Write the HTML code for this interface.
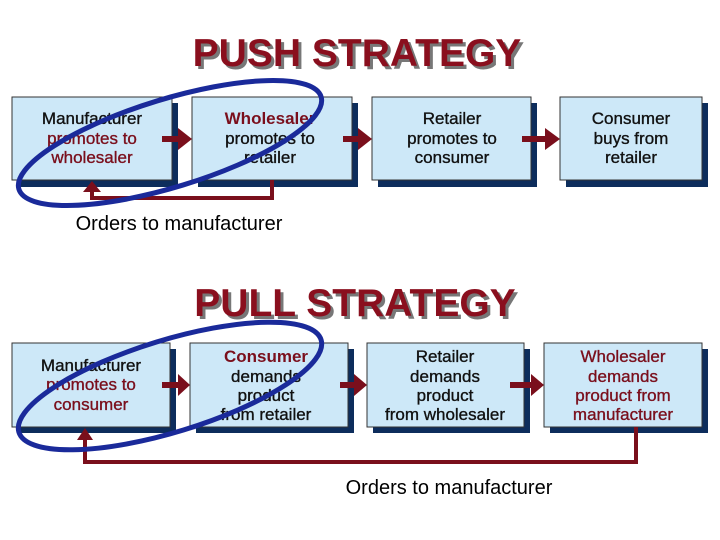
<!DOCTYPE html>
<html><head><style>
body{margin:0;background:#fff;}
svg{display:block;font-family:"Liberation Sans",Arial,sans-serif;}
.t{font-size:17px;text-anchor:middle;fill:#111;stroke:#111;stroke-width:0.35;}
.r{fill:#7a0f1c;stroke:#7a0f1c;}
.b{font-weight:bold;stroke-width:0;}
</style></head><body>
<svg width="720" height="540" viewBox="0 0 720 540" xmlns="http://www.w3.org/2000/svg">
<text x="360" y="69" font-size="39" font-weight="bold" text-anchor="middle" fill="#777">PUSH STRATEGY</text>
<text x="357" y="66" font-size="39" font-weight="bold" text-anchor="middle" fill="#8a0f1e">PUSH STRATEGY</text>
<text x="358" y="319" font-size="39" font-weight="bold" text-anchor="middle" fill="#777">PULL STRATEGY</text>
<text x="355" y="316" font-size="39" font-weight="bold" text-anchor="middle" fill="#8a0f1e">PULL STRATEGY</text>

<g stroke="#333" stroke-width="1">
<rect x="18" y="103" width="160" height="84" fill="#0d2d5c" stroke="none"/>
<rect x="12" y="97" width="160" height="83" fill="#cde8f8"/>
<rect x="198" y="103" width="160" height="84" fill="#0d2d5c" stroke="none"/>
<rect x="192" y="97" width="160" height="83" fill="#cde8f8"/>
<rect x="378" y="103" width="159" height="84" fill="#0d2d5c" stroke="none"/>
<rect x="372" y="97" width="159" height="83" fill="#cde8f8"/>
<rect x="566" y="103" width="142" height="84" fill="#0d2d5c" stroke="none"/>
<rect x="560" y="97" width="142" height="83" fill="#cde8f8"/>
<rect x="18" y="349" width="158" height="84" fill="#0d2d5c" stroke="none"/>
<rect x="12" y="343" width="158" height="84" fill="#cde8f8"/>
<rect x="196" y="349" width="158" height="84" fill="#0d2d5c" stroke="none"/>
<rect x="190" y="343" width="158" height="84" fill="#cde8f8"/>
<rect x="373" y="349" width="157" height="84" fill="#0d2d5c" stroke="none"/>
<rect x="367" y="343" width="157" height="84" fill="#cde8f8"/>
<rect x="550" y="349" width="158" height="84" fill="#0d2d5c" stroke="none"/>
<rect x="544" y="343" width="158" height="84" fill="#cde8f8"/>
</g>

<g fill="#7a0f1c">
<rect x="162" y="136" width="18" height="6"/><polygon points="178,128 192,139 178,150"/>
<rect x="343" y="136" width="18" height="6"/><polygon points="358,128 372,139 358,150"/>
<rect x="522" y="136" width="24" height="6"/><polygon points="545,128 560,139 545,150"/>
<rect x="162" y="382" width="18" height="6"/><polygon points="178,374 190,385 178,396"/>
<rect x="340" y="382" width="16" height="6"/><polygon points="354,374 367,385 354,396"/>
<rect x="510" y="382" width="22" height="6"/><polygon points="531,374 544,385 531,396"/>
</g>
<polyline points="272,180 272,198 92,198 92,190" fill="none" stroke="#7a0f1c" stroke-width="4"/>
<polygon points="83,192 92,181 101,192" fill="#7a0f1c"/>
<polyline points="636,427 636,462 85,462 85,438" fill="none" stroke="#7a0f1c" stroke-width="4"/>
<polygon points="77,440 85,428 93,440" fill="#7a0f1c"/>

<text class="t" x="92" y="124">Manufacturer</text>
<text class="t r" x="92" y="144">promotes to</text>
<text class="t r" x="92" y="163">wholesaler</text>
<text class="t r b" x="270" y="124">Wholesaler</text>
<text class="t" x="270" y="144">promotes to</text>
<text class="t" x="270" y="163">retailer</text>
<text class="t" x="452" y="124">Retailer</text>
<text class="t" x="452" y="144">promotes to</text>
<text class="t" x="452" y="163">consumer</text>
<text class="t" x="631" y="124">Consumer</text>
<text class="t" x="631" y="144">buys from</text>
<text class="t" x="631" y="163">retailer</text>
<text x="179" y="230" font-size="20" text-anchor="middle" fill="#000">Orders to manufacturer</text>

<text class="t" x="91" y="371">Manufacturer</text>
<text class="t r" x="91" y="390">promotes to</text>
<text class="t r" x="91" y="410">consumer</text>
<text class="t r b" x="266" y="362">Consumer</text>
<text class="t" x="266" y="382">demands</text>
<text class="t" x="266" y="401">product</text>
<text class="t" x="266" y="420">from retailer</text>
<text class="t" x="445" y="362">Retailer</text>
<text class="t" x="445" y="382">demands</text>
<text class="t" x="445" y="401">product</text>
<text class="t" x="445" y="420">from wholesaler</text>
<text class="t r" x="623" y="362">Wholesaler</text>
<text class="t r" x="623" y="382">demands</text>
<text class="t r" x="623" y="401">product from</text>
<text class="t r" x="623" y="420">manufacturer</text>
<text x="449" y="494" font-size="20" text-anchor="middle" fill="#000">Orders to manufacturer</text>

<ellipse cx="170" cy="143" rx="158" ry="44" transform="rotate(-17 170 143)" fill="none" stroke="#1a2a9a" stroke-width="5"/>
<ellipse cx="170" cy="386" rx="158" ry="46" transform="rotate(-17 170 386)" fill="none" stroke="#1a2a9a" stroke-width="5"/>
</svg>
</body></html>
